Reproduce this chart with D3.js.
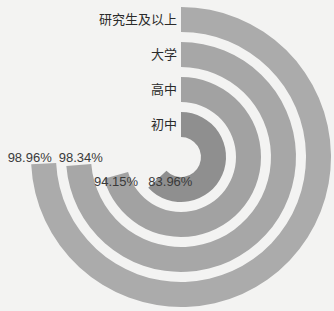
<!DOCTYPE html>
<html>
<head>
<meta charset="utf-8">
<script src="https://cdn.jsdelivr.net/npm/d3@7"></script>
<style>
  html, body { margin: 0; padding: 0; background: #f3f3f2; }
  svg { display: block; }
  text { font-family: "Liberation Sans", "Noto Sans CJK SC", sans-serif; }
</style>
</head>
<body>
<div id="container"></div>
<script>
/* DATA (inner ring first) */
const levels = ["初中", "高中", "大学", "研究生及以上"];
const rates = [83.96, 94.15, 98.34, 98.96];
const rateLabels = ["83.96%", "94.15%", "98.34%", "98.96%"];

/* LAYOUT */
const width = 334;
const height = 311;
const cx = 181, cy = 157;
const ringColors = ["#8f8f8f", "#a2a2a2", "#a7a7a7", "#ababab"];
// small nudges for the value labels so they sit where the original put them
const labelNudge = [[13, 7], [0, 11], [2, -3], [-14, -2]];

const svg = d3.select("#container")
  .append("svg")
  .attr("width", width)
  .attr("height", height);

const g = svg.append("g")
  .attr("transform", `translate(${cx},${cy})`);

/* SCALES */
const rScale = d3.scaleBand()
  .domain(levels)
  .range([20, 150])
  .paddingInner(10 / 35)
  .paddingOuter(0);

const aScale = d3.scaleLinear()
  .domain([0, 100])
  .range([0, Math.PI * 1.5]);

const arc = d3.arc()
  .innerRadius(d => rScale(d.level))
  .outerRadius(d => rScale(d.level) + rScale.bandwidth())
  .startAngle(0)
  .endAngle(d => aScale(d.rate));

const rows = levels.map((level, i) => ({ level, rate: rates[i], label: rateLabels[i], i }));

// rings
g.selectAll("path.ring")
  .data(rows)
  .join("path")
  .attr("class", "ring")
  .attr("d", arc)
  .attr("fill", d => ringColors[d.i]);

// category labels, right aligned against the start of each ring
g.selectAll("text.cat")
  .data(rows)
  .join("text")
  .attr("class", "cat")
  .attr("x", -4)
  .attr("y", d => -(rScale(d.level) + rScale.bandwidth() / 2))
  .attr("dy", "0.36em")
  .attr("text-anchor", "end")
  .style("font-size", "13px")
  .style("fill", "#2b2b2b")
  .text(d => d.level);

// value labels near the end of each ring
g.selectAll("text.val")
  .data(rows)
  .join("text")
  .attr("class", "val")
  .attr("x", d => {
    const r = rScale(d.level) + rScale.bandwidth() / 2;
    return r * Math.sin(aScale(d.rate)) + labelNudge[d.i][0];
  })
  .attr("y", d => {
    const r = rScale(d.level) + rScale.bandwidth() / 2;
    return -r * Math.cos(aScale(d.rate)) + labelNudge[d.i][1];
  })
  .attr("text-anchor", "middle")
  .style("font-size", "13px")
  .style("fill", "#3a3a3a")
  .text(d => d.label);
</script>
</body>
</html>
